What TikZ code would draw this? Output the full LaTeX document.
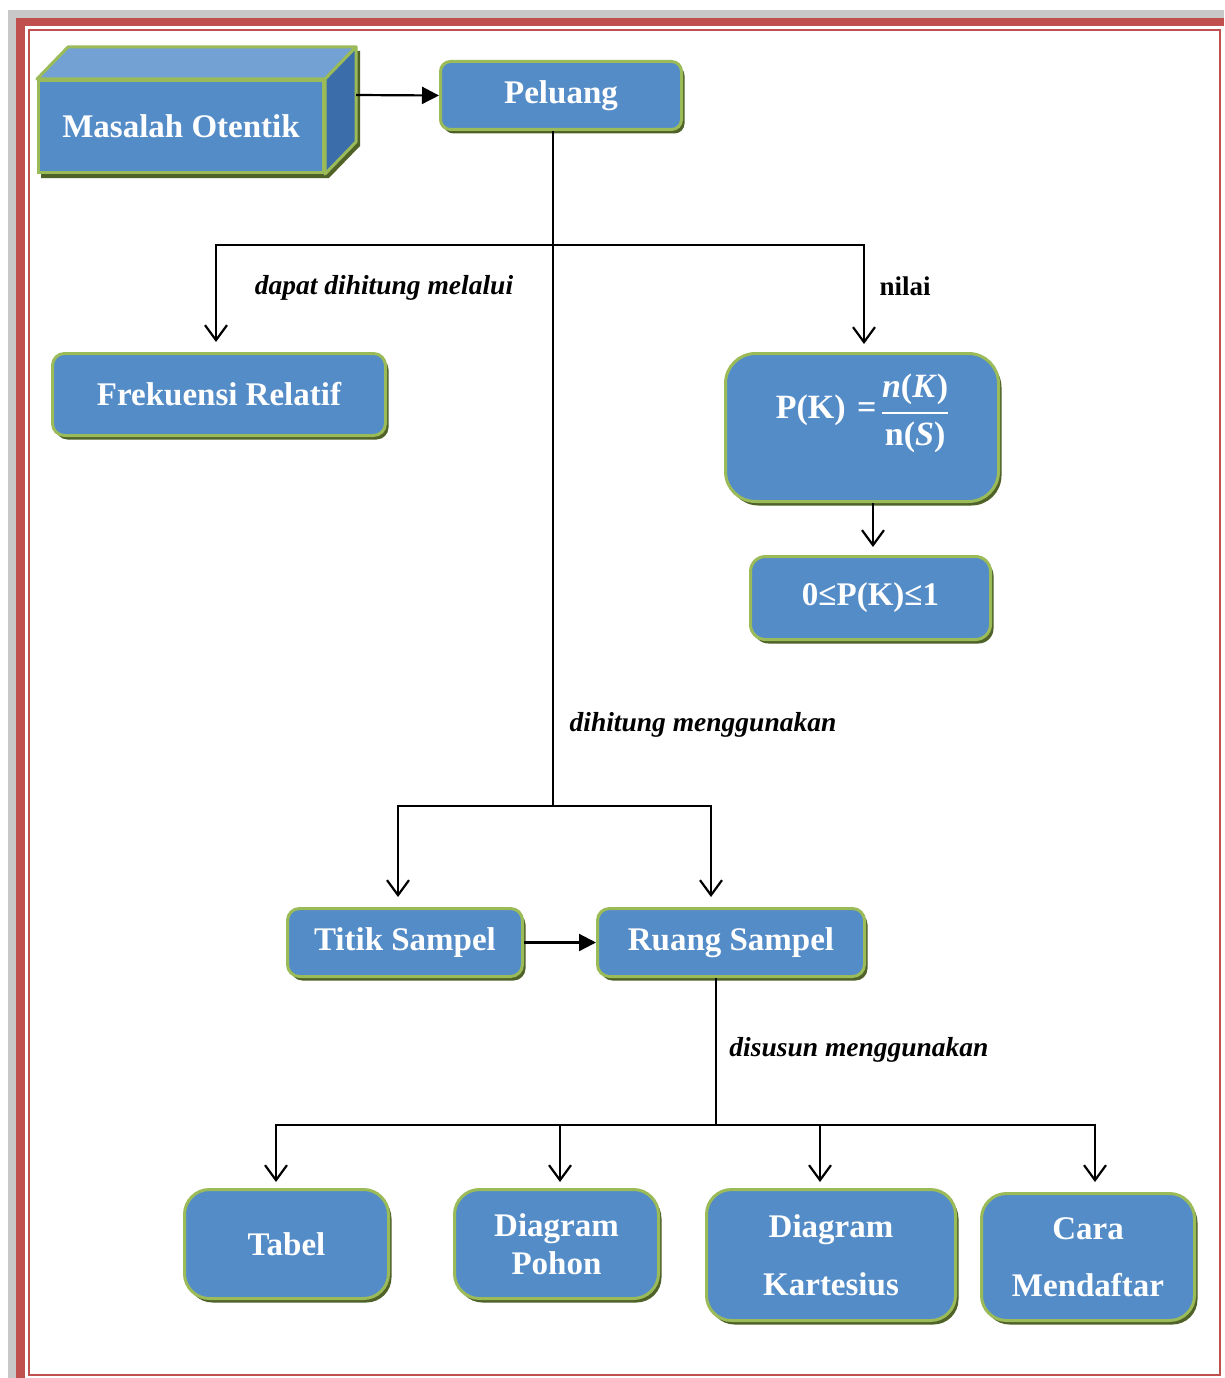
\documentclass[tikz,border=0pt]{standalone}
\usepackage{fontspec}
\setmainfont{Liberation Serif}
\usetikzlibrary{arrows.meta,shadows}
\definecolor{kotak}{RGB}{84,140,200}
\definecolor{kotakatas}{RGB}{115,161,211}
\definecolor{kotaksisi}{RGB}{58,109,170}
\definecolor{tepi}{RGB}{155,187,89}
\definecolor{bayang}{RGB}{79,98,40}
\definecolor{bingkai}{RGB}{192,80,77}
\definecolor{abu}{RGB}{200,200,200}
\setlength{\arrayrulewidth}{2pt}

\begin{document}
\begin{tikzpicture}[x=1pt,y=-1pt,
		kotakbox/.style={draw=tepi, fill=kotak, line width=3pt, rounded corners=#1, text=white,
			font=\fontsize{33}{38}\selectfont\bfseries, align=center,
			general shadow={fill=bayang, shadow xshift=3pt, shadow yshift=-4pt}},
		kotakbox/.default=12pt,
		ket/.style={font=\fontsize{27.5}{32}\selectfont\bfseries\itshape},
		garis/.style={line width=2.2pt},
		panah/.style={garis, -{Straight Barb[length=15pt,width=22pt,line width=2.2pt]}, shorten >=8pt},
		panahisi/.style={garis, -{Triangle[length=17pt,width=17pt]}}]
	\useasboundingbox (0,0) rectangle (1224,1378);
	% bingkai halaman
	\fill[white] (0,0) rectangle (1224,1378);
	\fill[abu] (8,10) rectangle (1224,1378);
	\fill[bingkai] (16,18) rectangle (1224,1378);
	\fill[white] (25,26) rectangle (1224,1378);
	\draw[bingkai, line width=2.5pt] (29,30) rectangle (1220,1375);
	% kotak tiga dimensi
	\fill[bayang] (41,83) -- (72,51) -- (360,51) -- (360,146) -- (329,178) -- (41,178) -- cycle;
	\filldraw[fill=kotakatas, draw=tepi, line width=3pt, line join=round] (37,79) -- (68,47) -- (356,47) -- (325,79) -- cycle;
	\filldraw[fill=kotaksisi, draw=tepi, line width=3pt, line join=round] (325,79) -- (356,47) -- (356,142) -- (325,174) -- cycle;
	\node[draw=tepi, fill=kotak, line width=3pt, text=white, font=\fontsize{33}{38}\selectfont\bfseries,
		minimum width=285pt, minimum height=92pt] (masalah) at (181,126.5) {\raisebox{-2pt}{Masalah Otentik}};
	\coordinate (sisi) at (356,95);

	\node[kotakbox=10pt, minimum width=241pt, minimum height=68pt] (peluang) at (561,95.5) {Peluang};
	\node[kotakbox, minimum width=333pt, minimum height=82pt] (frek) at (219,394.5) {Frekuensi Relatif};
	\node[kotakbox=30pt, minimum width=273pt, minimum height=148pt,
		label={[text=white, font=\fontsize{34}{40}\selectfont\bfseries, yshift=15pt]center:{P(K)\,\,=\,\renewcommand{\arraystretch}{1.15}\begin{tabular}[c]{@{}c@{}}\textit{n}(\textit{K})\\\hline n(\textit{S})\end{tabular}}}] (rumus) at (862,427.5) {};
	\node[kotakbox=15pt, minimum width=240pt, minimum height=83pt] (batas) at (870.5,598) {0≤P(K)≤1};
	\node[kotakbox, minimum width=235pt, minimum height=68pt] (titik) at (405,942.5) {Titik Sampel};
	\node[kotakbox, minimum width=267pt, minimum height=68pt] (ruang) at (731,942.5) {Ruang Sampel};
	\node[kotakbox=25pt, minimum width=204pt, minimum height=109pt] (tabel) at (286.5,1244) {Tabel};
	\node[kotakbox=25pt, minimum width=204pt, minimum height=109pt] (pohon) at (556.5,1244) {Diagram\\Pohon};
	\node[kotakbox=25pt, minimum width=249pt, minimum height=131pt] (kartesius) at (831,1255) {Diagram\\[20pt]Kartesius};
	\node[kotakbox=25pt, minimum width=213pt, minimum height=127pt] (cara) at (1088,1257) {Cara\\[19pt]Mendaftar};

	\node[ket] (lbl1) at (384,288) {dapat dihitung melalui};
	\node[ket, font=\fontsize{27}{32}\selectfont\bfseries] (lbl2) at (905,286) {nilai};
	\node[ket] (lbl3) at (703,725) {dihitung menggunakan};
	\node[ket] (lbl4) at (859,1050) {disusun menggunakan};

	\coordinate (c1) at (553,245);
	\coordinate (c2) at (553,806);
	\coordinate (c3) at (716,1125);
	\draw[panahisi] (sisi) -- (peluang.west);
	\draw[garis] (peluang.south -| c2) -- (c2);
	\draw[panah, shorten >=10pt] (c1) -| ([xshift=-3pt]frek.north);
	\draw[panah] (c1) -| ([xshift=2pt]rumus.north);
	\draw[panah] ([xshift=11pt]rumus.south) -- ([xshift=2.5pt]batas.north);
	\draw[panah, shorten >=10pt] (c2) -| ([xshift=-7pt]titik.north);
	\draw[panah, shorten >=10pt] (c2) -| ([xshift=-20pt]ruang.north);
	\draw[panahisi] (titik) -- (ruang);
	\draw[garis] ([xshift=-15pt]ruang.south) -- (c3);
	\draw[panah, shorten >=6pt] (c3) -| ([xshift=-10.5pt]tabel.north);
	\draw[panah, shorten >=6pt] (c3) -| ([xshift=3.5pt]pohon.north);
	\draw[panah, shorten >=6pt] (c3) -| ([xshift=-11pt]kartesius.north);
	\draw[panah, shorten >=10pt] (c3) -| ([xshift=7pt]cara.north);
\end{tikzpicture}
\end{document}
